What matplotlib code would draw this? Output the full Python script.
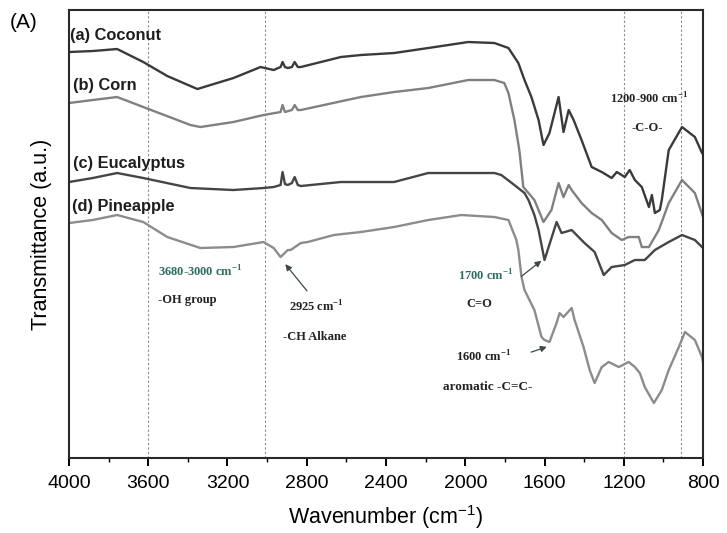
import matplotlib
matplotlib.use("Agg")
import matplotlib.pyplot as plt
from matplotlib.ticker import MultipleLocator

# ---- data (wavenumber, transmittance in arbitrary units) ----
coconut_wn = [4000, 3880, 3757, 3625, 3504, 3352, 3170, 3033, 2967, 2932, 2922, 2910, 2896, 2875, 2861, 2845,
              2830, 2729, 2628, 2527, 2359, 2187, 1985, 1853, 1782, 1732, 1701, 1666, 1630, 1605, 1575, 1529,
              1504, 1478, 1453, 1413, 1362, 1311, 1261, 1235, 1195, 1170, 1144, 1109, 1073, 1058, 1043, 1018,
              1008, 973, 906, 841, 805]
coconut_t = [406, 407, 409, 396, 382, 369, 380, 391, 388, 391, 396, 391, 390, 391, 396, 391,
             391, 396, 401, 403, 405, 410, 416, 415, 410, 395, 378, 361, 338, 313, 325, 361,
             326, 348, 338, 318, 291, 286, 280, 286, 281, 288, 278, 271, 251, 263, 245, 248,
             258, 308, 331, 321, 305]

corn_wn = [4000, 3880, 3757, 3625, 3387, 3337, 3170, 3018, 2932, 2922, 2910, 2875, 2861, 2845, 2830, 2527,
           2359, 2187, 1985, 1853, 1803, 1782, 1752, 1727, 1707, 1681, 1651, 1630, 1605, 1565, 1529, 1504,
           1478, 1463, 1413, 1362, 1311, 1261, 1210, 1175, 1124, 1109, 1073, 1023, 973, 906, 841, 800]
corn_t = [355, 358, 361, 351, 333, 331, 336, 343, 346, 353, 346, 348, 353, 348, 348, 361,
          366, 370, 378, 378, 375, 365, 338, 308, 271, 265, 258, 248, 236, 248, 275, 261,
          273, 268, 255, 245, 238, 225, 218, 221, 221, 211, 211, 228, 255, 278, 265, 241]

euca_wn = [4000, 3880, 3757, 3625, 3387, 3170, 3018, 2967, 2932, 2922, 2910, 2896, 2875, 2861, 2845, 2830,
           2628, 2527, 2359, 2187, 1985, 1853, 1818, 1752, 1701, 1681, 1651, 1630, 1615, 1600, 1539, 1514,
           1463, 1398, 1347, 1301, 1261, 1195, 1144, 1094, 1043, 973, 906, 841, 800]
euca_t = [276, 280, 285, 280, 270, 268, 270, 271, 273, 286, 274, 273, 275, 281, 273, 272,
          276, 276, 276, 285, 285, 285, 283, 273, 265, 258, 243, 228, 213, 198, 236, 225,
          228, 215, 206, 183, 191, 193, 198, 198, 208, 216, 223, 218, 210]

pine_wn = [4000, 3880, 3757, 3625, 3504, 3337, 3170, 3018, 2967, 2932, 2896, 2881, 2830, 2795, 2663, 2527,
           2359, 2187, 2020, 1853, 1782, 1742, 1732, 1716, 1701, 1651, 1615, 1600, 1575, 1539, 1524, 1504,
           1463, 1448, 1403, 1372, 1347, 1311, 1276, 1225, 1175, 1144, 1119, 1094, 1048, 1008, 973, 922,
           891, 841, 805, 800]
pine_t = [235, 238, 243, 236, 221, 210, 211, 216, 210, 201, 208, 208, 215, 216, 223, 226,
          231, 238, 243, 241, 238, 218, 208, 181, 168, 148, 121, 118, 116, 135, 145, 141,
          150, 138, 111, 88, 75, 91, 96, 91, 96, 91, 85, 71, 55, 68, 88, 111,
          126, 118, 101, 96]

series_names = ["(a) Coconut", "(b) Corn", "(c) Eucalyptus", "(d) Pineapple"]
xticks = [4000, 3600, 3200, 2800, 2400, 2000, 1600, 1200, 800]
band_lines = [3600, 3010, 1200, 910]

# ---- figure ----
fig = plt.figure(figsize=(7.27, 5.33), dpi=100)
ax = fig.add_axes([0.0949, 0.1407, 0.8721, 0.8405])

sans = ["Liberation Sans", "DejaVu Sans"]
serif = ["Liberation Serif", "DejaVu Serif"]

ax.plot(coconut_wn, coconut_t, color="#3a3a3a", lw=1.7)
ax.plot(corn_wn, corn_t, color="#808080", lw=1.7)
ax.plot(euca_wn, euca_t, color="#454545", lw=1.7)
ax.plot(pine_wn, pine_t, color="#8c8c8c", lw=1.7)

for b in band_lines:
    ax.axvline(b, color="#8a8a8a", lw=0.8, ls=(0, (2, 2)), zorder=0)

ax.set_xlim(4000, 800)
ax.set_ylim(0, 448)
ax.set_xticks(xticks)
ax.xaxis.set_minor_locator(MultipleLocator(200))
ax.set_yticks([])
ax.tick_params(axis="x", which="major", direction="out", length=6, width=1.4, labelsize=14, pad=6)
ax.tick_params(axis="x", which="minor", direction="out", length=3, width=1.0)
for lab in ax.get_xticklabels():
    lab.set_family(sans)
for sp in ax.spines.values():
    sp.set_linewidth(1.5)
    sp.set_color("#2a2a2a")

ax.set_xlabel(r"Wavenumber (cm$^{\mathregular{-1}}$)", fontsize=15.5, family=sans, labelpad=8)
ax.set_ylabel("Transmittance (a.u.)", fontsize=15.5, family=sans, labelpad=12)

# curve labels
label_pos = [(3995, 423), (3980, 373), (3980, 295), (3985, 252)]
for name, (x, y) in zip(series_names, label_pos):
    ax.text(x, y, name, fontsize=11.8, fontweight="bold", family=sans, color="#1e1e1e",
            ha="left", va="center")

fig.text(0.014, 0.958, "(A)", fontsize=15, family=sans, ha="left", va="center")

teal = "#2f6d60"
ann = dict(fontsize=9, fontweight="bold", family=serif, ha="left", va="center")
ax.text(3549, 186, r"3680-3000 cm$^{\mathregular{-1}}$", color=teal, **ann)
ax.text(3549, 158, "-OH group", color="#222222", **ann)
ax.text(2891, 151, r"2925 cm$^{\mathregular{-1}}$", color="#222222", **ann)
ax.text(2922, 121, "-CH Alkane", color="#222222", **ann)
ax.text(2036, 182, r"1700 cm$^{\mathregular{-1}}$", color=teal, **ann)
ax.text(1929, 154, "C=O", color="#222222", fontsize=9, fontweight="bold", family=serif,
        ha="center", va="center")
ax.text(2046, 101, r"1600 cm$^{\mathregular{-1}}$", color="#222222", **ann)
ax.text(2112, 71, "aromatic -C=C-", color="#222222", fontsize=9.5, fontweight="bold",
        family=serif, ha="left", va="center")
ax.text(1271, 359, r"1200-900 cm$^{\mathregular{-1}}$", color="#222222", **ann)
ax.text(1160, 330, "-C-O-", color="#222222", **ann)

arrowprops = dict(arrowstyle="-|>", color="#3c4a44", lw=0.9, mutation_scale=9)
ax.annotate("", xy=(2917, 196), xytext=(2790, 165), arrowprops=arrowprops)
ax.annotate("", xy=(1605, 199), xytext=(1727, 180), arrowprops=arrowprops)
ax.annotate("", xy=(1575, 112), xytext=(1681, 105), arrowprops=arrowprops)

fig.savefig("out.png", dpi=100)
